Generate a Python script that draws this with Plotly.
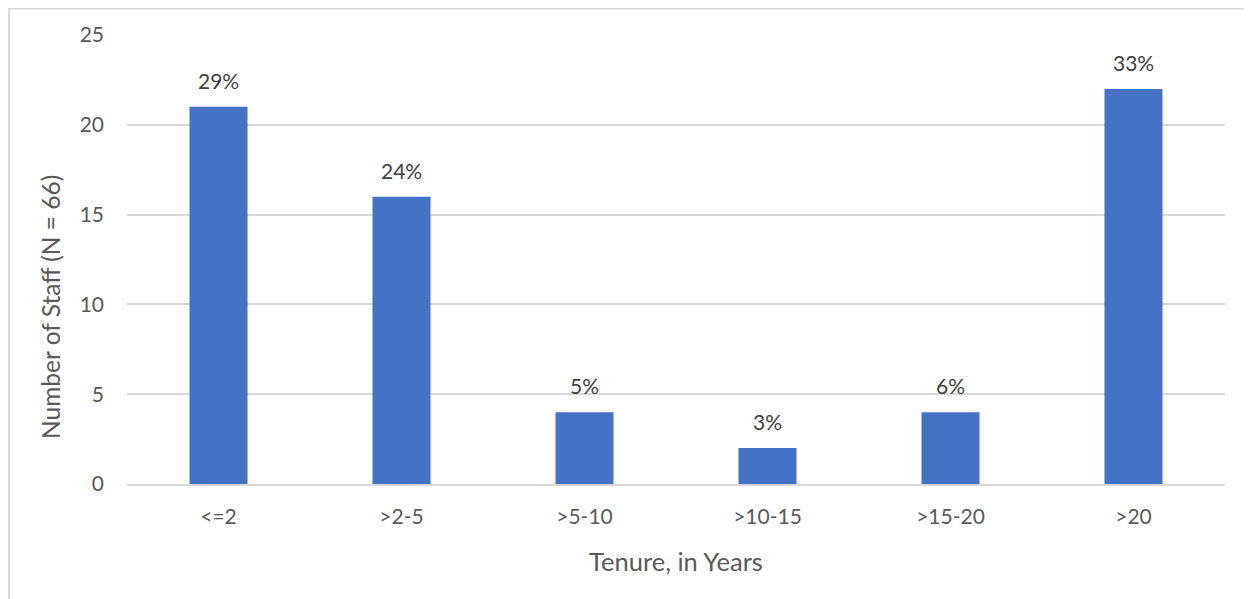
import plotly.graph_objects as go

categories = ["<=2", ">2-5", ">5-10", ">10-15", ">15-20", ">20"]
staff_counts = [21, 16, 4, 2, 4, 22]
pct_labels = ["29%", "24%", "5%", "3%", "6%", "33%"]
y_ticks = [0, 5, 10, 15, 20, 25]

FONT = "Lato"
TXT = "#595959"

fig = go.Figure()
fig.add_trace(go.Bar(
    x=categories, y=staff_counts,
    marker=dict(color="#4472C4", line=dict(width=0)),
    width=0.317,
    hoverinfo="x+y",
))

for c, v, t in zip(categories, staff_counts, pct_labels):
    fig.add_annotation(x=c, y=v, text=t, showarrow=False, yanchor="bottom",
                       yshift=12, font=dict(family=FONT, size=21, color="#404040"))

# y-axis title (centred on the chart area, as in the original)
fig.add_annotation(text="Number of Staff (N = 66)", xref="paper", yref="paper",
                   x=(50 - 127) / 1098, y=(484 - 307) / 449, textangle=-90,
                   xanchor="center", yanchor="middle", showarrow=False,
                   font=dict(family=FONT, size=24.5, color=TXT))

fig.update_layout(
    width=1244, height=591,
    margin=dict(l=119, r=27, t=27, b=115),
    paper_bgcolor="white", plot_bgcolor="white",
    font=dict(family=FONT, size=21, color=TXT),
    showlegend=False,
    xaxis=dict(
        showgrid=False, showline=True, linecolor="#d9d9d9", linewidth=1.5,
        ticks="", ticklabelstandoff=13,
        tickfont=dict(family=FONT, size=21, color=TXT),
        title=dict(text="Tenure, in Years", standoff=26,
                   font=dict(family=FONT, size=25.5, color=TXT)),
    ),
    yaxis=dict(
        range=[0, 25], tickvals=y_ticks, showgrid=True, gridcolor="#d9d9d9",
        gridwidth=1.5, zeroline=False, showline=False, ticks="",
        ticklabelstandoff=22,
        tickfont=dict(family=FONT, size=21, color=TXT),
    ),
    shapes=[
        dict(type="line", xref="paper", yref="paper",
             x0=-119 / 1098, x1=1.1, y0=1 + 26.5 / 449, y1=1 + 26.5 / 449,
             line=dict(color="#d9d9d9", width=2)),
        dict(type="line", xref="paper", yref="paper",
             x0=-118 / 1098, x1=-118 / 1098, y0=1 + 27 / 449, y1=-0.5,
             line=dict(color="#d9d9d9", width=2)),
    ],
)

fig.write_html("out.html")
